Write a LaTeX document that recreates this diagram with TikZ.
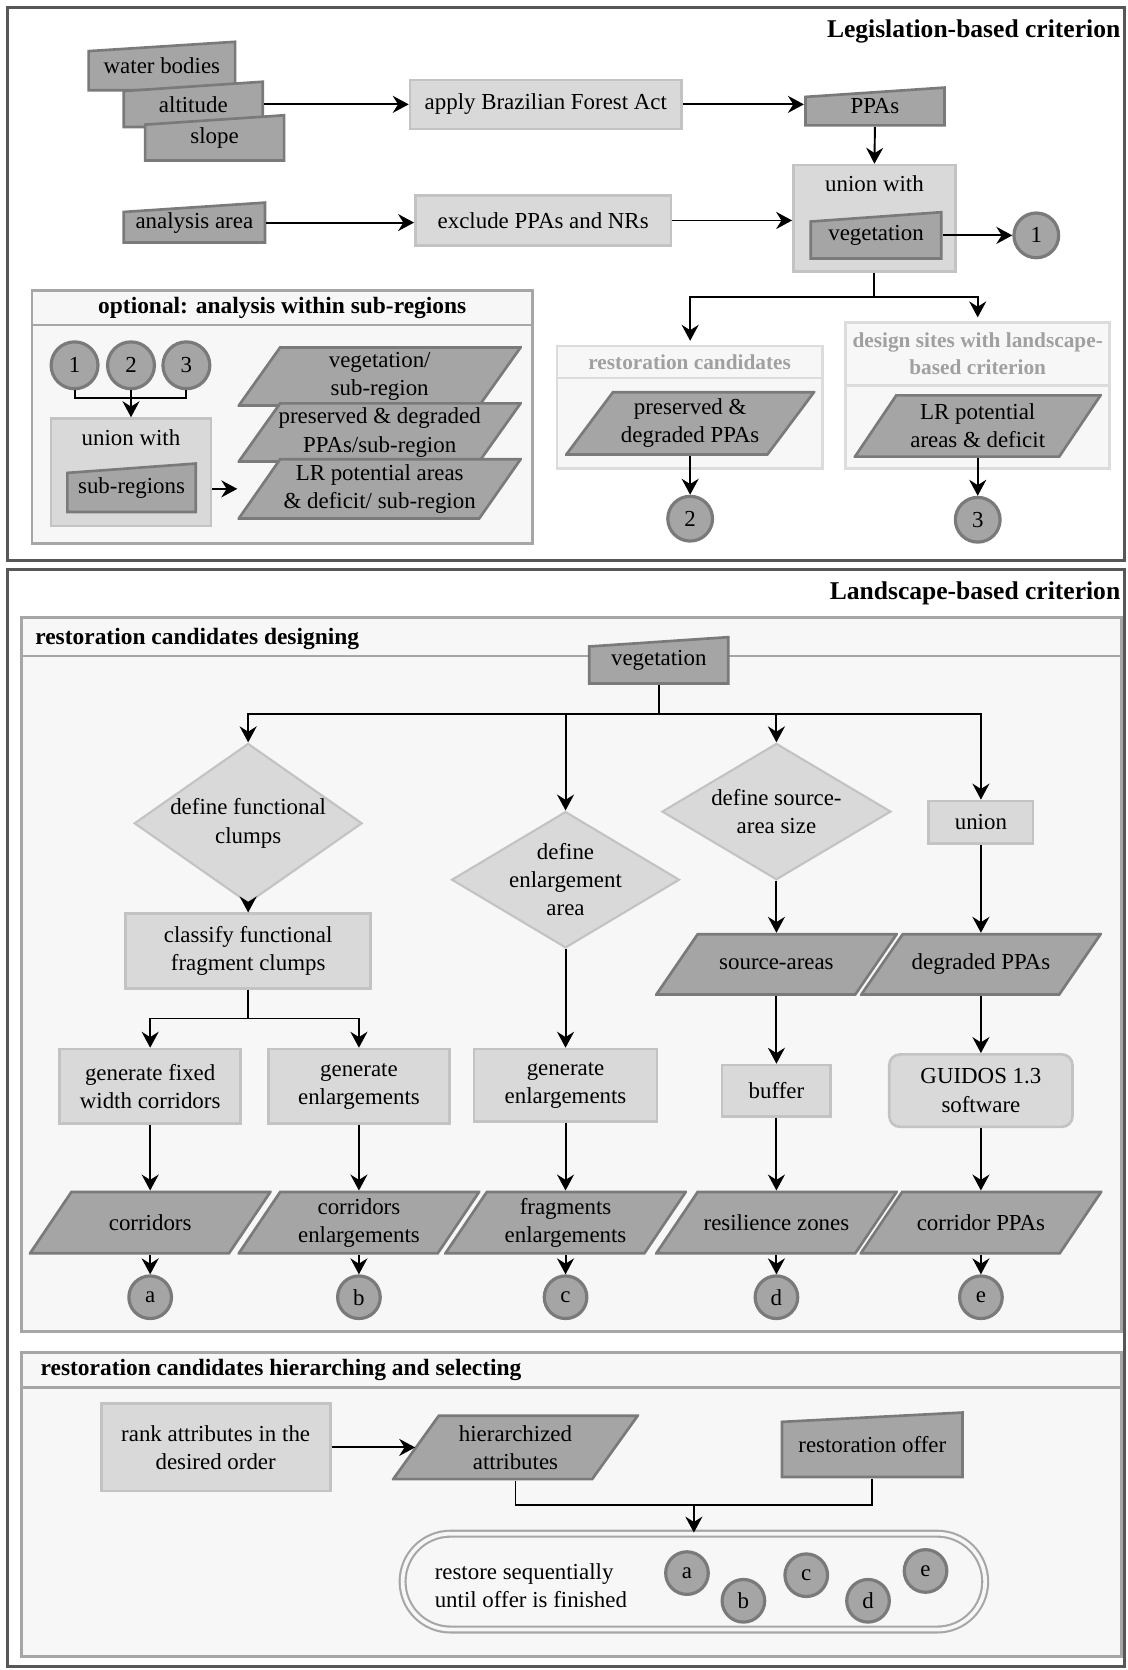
\documentclass[tikz,border=0pt]{standalone}
\usepackage{fontspec}
\setmainfont{Liberation Serif}
\usetikzlibrary{arrows.meta,shapes.geometric}

\definecolor{frameLine}{HTML}{575757}
\definecolor{grpLine}{HTML}{A6A6A6}
\definecolor{grpFill}{HTML}{F7F7F7}
\definecolor{subLine}{HTML}{DCDCDC}
\definecolor{subText}{HTML}{A0A0A0}
\definecolor{procFill}{HTML}{D9D9D9}
\definecolor{procLine}{HTML}{C3C3C3}
\definecolor{dataFill}{HTML}{A5A5A5}
\definecolor{dataLine}{HTML}{7A7A7A}

\newcommand\fsnorm{\fontsize{21.5}{26.5}\selectfont}
\newcommand\fsgroup{\fontsize{22}{26}\selectfont\bfseries}
\newcommand\fssection{\fontsize{24}{28}\selectfont\bfseries}
\newcommand\fssub{\fontsize{20}{25}\selectfont\bfseries}

\begin{document}
\begin{tikzpicture}[x=1pt,y=-1pt,font=\fsnorm,
    every node/.style={inner sep=0pt},
    frame/.style={draw=frameLine,line width=3pt},
    grp/.style={draw=grpLine,fill=grpFill,line width=2.5pt},
    subgrp/.style={draw=subLine,fill=grpFill,line width=2.5pt},
    proc/.style={draw=procLine,fill=procFill,line width=2.5pt,align=center},
    dec/.style={diamond,draw=procLine,fill=procFill,line width=2pt,align=center,inner sep=-15pt},
    datain/.style={align=center,path picture={
        \filldraw[fill=dataFill,draw=dataLine,line width=2.5pt]
          ([shift={(1.25pt,1.25pt)}]path picture bounding box.south west)
          -- ([shift={(-1.25pt,1.25pt)}]path picture bounding box.south east)
          -- ([shift={(-1.25pt,-1.25pt)}]path picture bounding box.north east)
          -- ([shift={(1.25pt,-10pt)}]path picture bounding box.north west) -- cycle;}},
    datapar/.style={align=center,path picture={
        \filldraw[fill=dataFill,draw=dataLine,line width=2.5pt]
          ([shift={(1.25pt,1.25pt)}]path picture bounding box.south west)
          -- ([shift={(-#1pt,1.25pt)}]path picture bounding box.south east)
          -- ([shift={(-1.25pt,-1.25pt)}]path picture bounding box.north east)
          -- ([shift={(#1pt,-1.25pt)}]path picture bounding box.north west) -- cycle;}},
    datapar/.default=40,
    conn/.style={circle,draw=dataLine,fill=dataFill,line width=3pt,minimum size=42pt},
    stadium/.style={draw=grpLine,double=grpFill,double distance=3.5pt,line width=2pt,rounded corners=45pt},
    ln/.style={line width=1.8pt},
    arr/.style={ln,-{Stealth[length=15pt,width=16pt,inset=5pt]}},
  ]
  \fill[white] (0,0) rectangle (1059,1568);
  \useasboundingbox (0,0) rectangle (1059,1568);

  \draw[frame] (7,7) rectangle (1056,526);
  \node[font=\fssection,anchor=east] (legis) at (1052,30) {Legislation-based criterion};

  \node[datain,minimum width=140pt,minimum height=48pt] (water) at (152,62) {water bodies};
  \node[datain,minimum width=133pt,minimum height=45pt] (alt) at (181.5,98) {altitude};
  \node[datain,minimum width=133pt,minimum height=45pt] (slope) at (201.5,129.5) {slope};
  \node[proc,minimum width=255pt,minimum height=46pt] (apply) at (512.5,98) {apply Brazilian Forest Act};
  \node[datain,minimum width=133pt,minimum height=38pt] (ppas) at (821.5,100) {PPAs};
  \node[datain,minimum width=135pt,minimum height=40pt] (area) at (182.5,209) {analysis area};
  \node[proc,minimum width=240pt,minimum height=47pt] (excl) at (510,207) {exclude PPAs and NRs};
  \node[proc,minimum width=152pt,minimum height=100pt,
        label={[anchor=north,yshift=-11pt]north:union with}] (uni1) at (821,205) {};
  \node[datain,minimum width=125pt,minimum height=46pt] (veg1) at (822.5,221) {vegetation};
  \node[conn] (c1) at (973,221) {1};

  \draw[arr] (alt.east) -- (alt.east -| apply.west);
  \draw[arr] (apply.east) -- (apply.east -| ppas.west);
  \draw[arr] (ppas.south) -- (uni1.north);
  \draw[arr] (area.east) -- (area.east -| excl.west);
  \draw[arr] (excl.east) -- (excl.east -| uni1.west);
  \draw[arr] (veg1.east) -- (c1.west);

  \coordinate (rctop) at (648,320);
  \coordinate (dstop) at (918,298);
  \draw[ln] (uni1.south) -- ++(0,23) coordinate (ub);
  \draw[arr] (ub) -| (rctop);
  \draw[arr] (ub) -| (dstop);

  \draw[subgrp] (523,325) rectangle (772,440);
  \draw[subgrp] (523,355) -- (772,355);
  \node[font=\fssub,text=subText] (rctitle) at (647.5,340) {restoration candidates};
  \node[datapar=45,minimum width=235pt,minimum height=61pt] (ppa2) at (648,397.5) {preserved \&\\degraded PPAs};
  \node[conn] (c2) at (648,487) {2};
  \draw[arr] (ppa2.south) -- (c2.north);

  \draw[subgrp] (794,303) rectangle (1042,440);
  \draw[subgrp] (794,362) -- (1042,362);
  \node[font=\fssub,text=subText,align=center] (dstitle) at (918,332) {design sites with landscape-\\based criterion};
  \node[datapar,minimum width=233pt,minimum height=60pt] (lr3) at (918,400) {LR potential\\areas \& deficit};
  \node[conn] (c3) at (918,488) {3};
  \draw[arr] (lr3.south) -- (c3.north);

  \draw[grp] (30,273) rectangle (500,510);
  \draw[grp] (30,305) -- (500,305);
  \node[font=\fsgroup] (opttitle) at (265,289) {optional: analysis within sub-regions};
  \node[conn,minimum size=44pt] (s1) at (70,343) {1};
  \node[conn,minimum size=44pt] (s2) at (123,343) {2};
  \node[conn,minimum size=44pt] (s3) at (175,343) {3};
  \node[proc,minimum width=150pt,minimum height=101pt,
        label={[anchor=north,yshift=-11pt]north:union with}] (uni2) at (123,443.5) {};
  \node[datain,minimum width=123pt,minimum height=48pt] (sub) at (123.5,458) {sub-regions};
  \node[datapar,minimum width=267pt,minimum height=57pt] (vegsub) at (356.5,353.5) {vegetation/\\sub-region};
  \node[datapar,minimum width=267pt,minimum height=57pt] (ppasub) at (356.5,406) {preserved \& degraded\\PPAs/sub-region};
  \node[datapar,minimum width=267pt,minimum height=58pt] (lrsub) at (356.5,459) {LR potential areas\\\& deficit/ sub-region};
  \draw[ln] (s1.south) -- ++(0,7) -| (s3.south);
  \draw[arr] (s2.south) -- (uni2.north);
  \draw[arr] (uni2.east |- lrsub.west) -- (lrsub.west);

  \draw[frame] (7,535) rectangle (1056,1565);
  \node[font=\fssection,anchor=east] (land) at (1052,557) {Landscape-based criterion};

  \draw[grp] (20,580) rectangle (1053,1250);
  \draw[grp] (20,616) -- (1053,616);
  \node[font=\fsgroup,anchor=west] (destitle) at (33,600) {restoration candidates designing};
  \node[datain,minimum width=133pt,minimum height=46pt] (veg2) at (618.5,620) {vegetation};

  \node[dec,minimum width=214pt,minimum height=150pt] (d1) at (233,773) {define functional\\clumps};
  \node[proc,minimum width=230pt,minimum height=70pt] (cl) at (233,893) {classify functional\\fragment clumps};
  \node[proc,minimum width=170pt,minimum height=70pt] (g1) at (141,1020) {generate fixed\\width corridors};
  \node[proc,minimum width=170pt,minimum height=70pt] (g2) at (337,1020) {generate\\enlargements};
  \node[dec,minimum width=214pt,minimum height=128pt] (d2) at (531,826) {define\\enlargement\\area};
  \node[proc,minimum width=172pt,minimum height=68pt] (g3) at (531,1019) {generate\\enlargements};
  \node[dec,minimum width=215pt,minimum height=128pt] (d3) at (729,762) {define source-\\area size};
  \node[datapar,minimum width=228pt,minimum height=59pt] (src) at (729,905.5) {source-areas};
  \node[proc,minimum width=102pt,minimum height=48pt] (buf) at (729,1024) {buffer};
  \node[proc,minimum width=98pt,minimum height=40pt] (uni3) at (921,772) {union};
  \node[datapar,minimum width=227pt,minimum height=59pt] (deg) at (921,905.5) {degraded PPAs};
  \node[proc,rounded corners=10pt,minimum width=172pt,minimum height=68pt] (gui) at (921,1024) {GUIDOS 1.3\\software};

  \node[datapar,minimum width=228pt,minimum height=60pt] (p1) at (141,1148) {corridors};
  \node[datapar,minimum width=228pt,minimum height=60pt] (p2) at (337,1148) {corridors\\enlargements};
  \node[datapar,minimum width=228pt,minimum height=60pt] (p3) at (531,1148) {fragments\\enlargements};
  \node[datapar,minimum width=228pt,minimum height=60pt] (p4) at (729,1148) {resilience zones};
  \node[datapar,minimum width=228pt,minimum height=60pt] (p5) at (921,1148) {corridor PPAs};
  \node[conn,minimum size=40pt] (ca) at (141,1218) {a};
  \node[conn,minimum size=40pt] (cb) at (337,1218) {b};
  \node[conn,minimum size=40pt] (cc) at (531,1218) {c};
  \node[conn,minimum size=40pt] (cd) at (729,1218) {d};
  \node[conn,minimum size=40pt] (ce) at (921,1218) {e};

  \draw[ln] (veg2.south) -- ++(0,27) coordinate (vb);
  \draw[arr] (vb) -| (d1.north);
  \draw[arr] (vb) -| (d2.north);
  \draw[arr] (vb) -| (d3.north);
  \draw[arr] (vb) -| (uni3.north);
  \draw[arr] (d1.south) -- (cl.north);
  \draw[ln] (cl.south) -- ++(0,27) coordinate (clb);
  \draw[arr] (clb) -| (g1.north);
  \draw[arr] (clb) -| (g2.north);
  \draw[arr] (g1.south) -- (p1.north);
  \draw[arr] (g2.south) -- (p2.north);
  \draw[arr] (d2.south) -- (g3.north);
  \draw[arr] (g3.south) -- (p3.north);
  \draw[arr] (d3.south) -- (src.north);
  \draw[arr] (src.south) -- (buf.north);
  \draw[arr] (buf.south) -- (p4.north);
  \draw[arr] (uni3.south) -- (deg.north);
  \draw[arr] (deg.south) -- (gui.north);
  \draw[arr] (gui.south) -- (p5.north);
  \draw[arr] (p1.south) -- (ca.north);
  \draw[arr] (p2.south) -- (cb.north);
  \draw[arr] (p3.south) -- (cc.north);
  \draw[arr] (p4.south) -- (cd.north);
  \draw[arr] (p5.south) -- (ce.north);

  \draw[grp] (20,1270) rectangle (1053,1555);
  \draw[grp] (20,1303) -- (1053,1303);
  \node[font=\fsgroup,anchor=west] (seltitle) at (38,1286) {restoration candidates hierarching and selecting};
  \node[proc,minimum width=215pt,minimum height=82pt] (rank) at (202.5,1359) {rank attributes in the\\desired order};
  \node[datapar=44,minimum width=232pt,minimum height=62pt] (hier) at (484,1359) {hierarchized\\attributes};
  \node[datain,minimum width=172pt,minimum height=63pt] (offer) at (819,1356.5) {restoration offer};
  \node[stadium,minimum width=547pt,minimum height=90pt] (sel) at (651.5,1485) {};
  \node[anchor=west,align=left] (seltxt) at (408,1489) {restore sequentially\\until offer is finished};
  \node[conn,minimum size=40pt] (ra) at (645,1477) {a};
  \node[conn,minimum size=40pt] (rb) at (698,1503) {b};
  \node[conn,minimum size=40pt] (rc) at (757,1479) {c};
  \node[conn,minimum size=40pt] (rd) at (815,1503) {d};
  \node[conn,minimum size=40pt] (re) at (869,1475) {e};

  \draw[arr] (rank.east) -- ([xshift=22pt]hier.west);
  \draw[ln] (hier.south) -- ++(0,23) coordinate (hb) -| (offer.south);
  \draw[arr] (hb -| sel.north) -- (sel.north);
\end{tikzpicture}
\end{document}
